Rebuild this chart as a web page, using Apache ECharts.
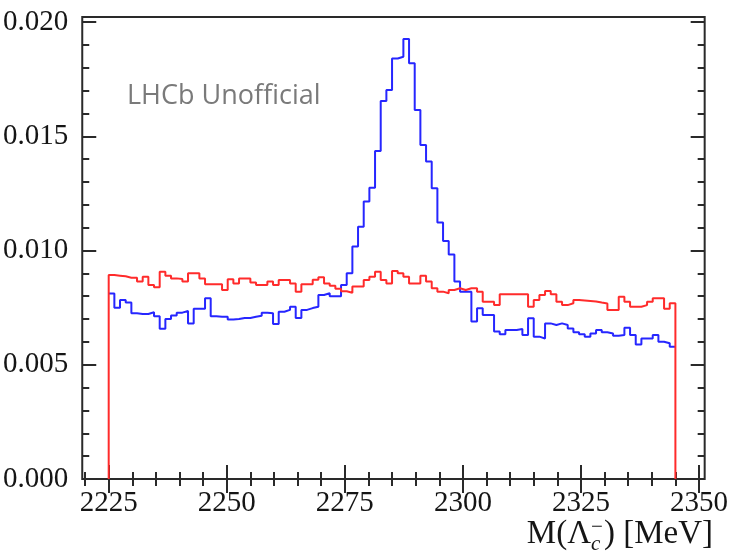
<!DOCTYPE html>
<html>
<head>
<meta charset="utf-8">
<script src="https://cdn.jsdelivr.net/npm/echarts@6/dist/echarts.min.js"></script>
<style>
  html, body { margin: 0; padding: 0; background: #fff; }
  #chart { width: 731px; height: 555px; }
</style>
</head>
<body>
<div id="chart"></div>
<script>
// Histogram binning: 100 bins of 1.2 MeV from 2225 to 2345 MeV
const lowEdge = 2225;
const binWidth = 1.2;

// Normalised candidate counts per bin (blue: signal-like sample)
const blueCounts = [
  0.00812, 0.00750, 0.00783, 0.00772, 0.00725, 0.00722, 0.00722, 0.00730, 0.00712, 0.00658,
  0.00700, 0.00715, 0.00728, 0.00735, 0.00680, 0.00745, 0.00745, 0.00791, 0.00712, 0.00710,
  0.00710, 0.00698, 0.00700, 0.00705, 0.00705, 0.00710, 0.00714, 0.00728, 0.00725, 0.00678,
  0.00732, 0.00740, 0.00754, 0.00705, 0.00740, 0.00748, 0.00754, 0.00805, 0.00813, 0.00800,
  0.00800, 0.00849, 0.00900, 0.01017, 0.01104, 0.01214, 0.01275, 0.01435, 0.01654, 0.01702,
  0.01840, 0.01848, 0.01926, 0.01819, 0.01615, 0.01462, 0.01389, 0.01272, 0.01123, 0.01042,
  0.00983, 0.00864, 0.00820, 0.00820, 0.00689, 0.00747, 0.00718, 0.00718, 0.00645, 0.00633,
  0.00652, 0.00652, 0.00656, 0.00630, 0.00703, 0.00623, 0.00615, 0.00681, 0.00674, 0.00681,
  0.00674, 0.00659, 0.00642, 0.00633, 0.00623, 0.00637, 0.00652, 0.00642, 0.00637, 0.00627,
  0.00630, 0.00662, 0.00630, 0.00589, 0.00615, 0.00615, 0.00630, 0.00601, 0.00594, 0.00579
];

// Normalised candidate counts per bin (red: background-like sample)
const redCounts = [
  0.00893, 0.00890, 0.00887, 0.00881, 0.00881, 0.00864, 0.00885, 0.00849, 0.00839, 0.00907,
  0.00890, 0.00878, 0.00875, 0.00864, 0.00900, 0.00900, 0.00878, 0.00852, 0.00852, 0.00852,
  0.00827, 0.00874, 0.00856, 0.00878, 0.00878, 0.00860, 0.00849, 0.00849, 0.00864, 0.00849,
  0.00871, 0.00871, 0.00856, 0.00820, 0.00852, 0.00852, 0.00872, 0.00883, 0.00856, 0.00846,
  0.00833, 0.00822, 0.00815, 0.00842, 0.00842, 0.00871, 0.00885, 0.00907, 0.00871, 0.00856,
  0.00910, 0.00900, 0.00885, 0.00856, 0.00856, 0.00890, 0.00864, 0.00835, 0.00820, 0.00813,
  0.00827, 0.00835, 0.00827, 0.00835, 0.00835, 0.00820, 0.00776, 0.00776, 0.00761, 0.00808,
  0.00808, 0.00808, 0.00808, 0.00808, 0.00754, 0.00783, 0.00805, 0.00823, 0.00808, 0.00776,
  0.00761, 0.00769, 0.00783, 0.00781, 0.00779, 0.00777, 0.00772, 0.00768, 0.00740, 0.00740,
  0.00798, 0.00776, 0.00754, 0.00754, 0.00761, 0.00776, 0.00791, 0.00791, 0.00745, 0.00769
];

// Axis ticks
const xMajorTicks = [2225, 2250, 2275, 2300, 2325, 2350];
const yMajorTicks = [0, 0.005, 0.010, 0.015, 0.020];
const xMinorTicks = [];
for (let m = 2220; m <= 2350; m += 5) xMinorTicks.push(m);
const yMinorTicks = [];
for (let k = 0; k <= 20; k++) yMinorTicks.push(k / 1000);

const xRange = [2219.4, 2351.2];
const yRange = [0, 0.020219];

// Turn bin contents into a step outline; optionally drop to zero at both ends
function stepOutline(vals, closed) {
  const pts = closed ? [[lowEdge, 0]] : [];
  vals.forEach((v, i) => pts.push([lowEdge + i * binWidth, v]));
  const hi = lowEdge + vals.length * binWidth;
  pts.push([hi, vals[vals.length - 1]]);
  if (closed) pts.push([hi, 0]);
  return pts;
}

const frameColor = '#2a2a2a';
const textColor = '#151515';
const serif = '"Liberation Serif", "DejaVu Serif", serif';

// Frame axis: inward ticks, optional tick labels
function frameAxis(kind, position, values, len, withLabels) {
  const ax = {
    type: 'value',
    position: position,
    min: kind === 'x' ? xRange[0] : yRange[0],
    max: kind === 'x' ? xRange[1] : yRange[1],
    axisLine: { show: false },
    splitLine: { show: false },
    axisTick: {
      show: true, inside: true, length: len, customValues: values,
      lineStyle: { color: frameColor, width: 2 }
    },
    axisLabel: { show: false }
  };
  if (withLabels) {
    ax.axisLabel = {
      show: true,
      customValues: values,
      fontFamily: serif,
      fontSize: 29,
      color: textColor,
      margin: kind === 'x' ? 10 : 14,
      formatter: kind === 'y' ? (v => Number(v).toFixed(3)) : (v => String(Math.round(v)))
    };
  }
  return ax;
}

// Axis title with stacked sub/superscript on Lambda
function measure(str, font) {
  const ctx = document.createElement('canvas').getContext('2d');
  ctx.font = font;
  return ctx.measureText(str).width;
}
const titleFont = '33px "Liberation Serif"';
const scriptFont = 'italic 21px "Liberation Serif"';
const supFont = '21px "Liberation Serif"';
const partA = 'M(Λ', partB = ') [MeV]', subTxt = 'c', supTxt = '−';
const wA = measure(partA, titleFont);
const wB = measure(partB, titleFont);
const wScript = Math.max(measure(subTxt, scriptFont), measure(supTxt, supFont)) + 1;
const titleRight = 713;
const titleLeft = titleRight - (wA + wScript + wB);
const titleMid = 534;

const chart = echarts.init(document.getElementById('chart'), null, { renderer: 'canvas' });
chart.setOption({
  animation: false,
  backgroundColor: '#ffffff',
  grid: {
    left: 81, right: 26, top: 17, bottom: 76,
    show: true, borderColor: frameColor, borderWidth: 2, backgroundColor: 'transparent'
  },
  xAxis: [
    frameAxis('x', 'bottom', xMajorTicks, 14, true),
    frameAxis('x', 'bottom', xMinorTicks, 7, false),
    frameAxis('x', 'top', xMajorTicks, 14, false),
    frameAxis('x', 'top', xMinorTicks, 7, false)
  ],
  yAxis: [
    frameAxis('y', 'left', yMajorTicks, 14, true),
    frameAxis('y', 'left', yMinorTicks, 7, false),
    frameAxis('y', 'right', yMajorTicks, 14, false),
    frameAxis('y', 'right', yMinorTicks, 7, false)
  ],
  graphic: [
    {
      type: 'text', left: 127, top: 83,
      style: { text: 'LHCb Unofficial', font: '27px "Open Sans"', fill: '#7a7a7a' }
    },
    {
      type: 'text', x: titleLeft, y: titleMid,
      style: { text: partA, font: titleFont, fill: textColor, verticalAlign: 'middle', align: 'left' }
    },
    {
      type: 'text', x: titleLeft + wA, y: titleMid + 10,
      style: { text: subTxt, font: scriptFont, fill: textColor, verticalAlign: 'middle', align: 'left' }
    },
    {
      type: 'text', x: titleLeft + wA, y: titleMid - 7,
      style: { text: supTxt, font: supFont, fill: textColor, verticalAlign: 'middle', align: 'left' }
    },
    {
      type: 'text', x: titleLeft + wA + wScript, y: titleMid,
      style: { text: partB, font: titleFont, fill: textColor, verticalAlign: 'middle', align: 'left' }
    }
  ],
  series: [
    {
      type: 'line', name: 'blue', step: 'end', showSymbol: false, symbol: 'none',
      xAxisIndex: 0, yAxisIndex: 0,
      data: stepOutline(blueCounts, false),
      lineStyle: { color: '#2626ff', width: 2 }, z: 3
    },
    {
      type: 'line', name: 'red', step: 'end', showSymbol: false, symbol: 'none',
      xAxisIndex: 0, yAxisIndex: 0,
      data: stepOutline(redCounts, true),
      lineStyle: { color: '#ff2b2b', width: 2 }, z: 4
    }
  ]
});
</script>
</body>
</html>
